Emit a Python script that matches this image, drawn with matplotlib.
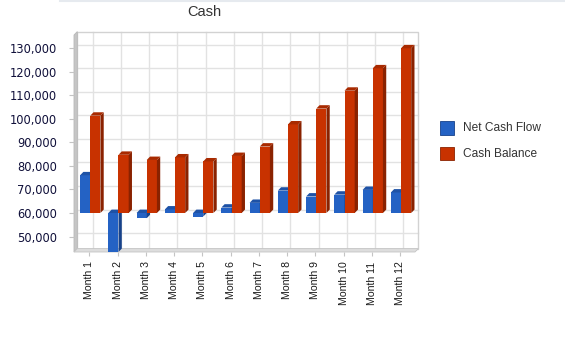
import matplotlib
matplotlib.use("Agg")
import matplotlib.pyplot as plt
from matplotlib.patches import Polygon, Rectangle
from matplotlib.lines import Line2D

# ---- data -------------------------------------------------------------
months = ["Month 1", "Month 2", "Month 3", "Month 4", "Month 5", "Month 6",
          "Month 7", "Month 8", "Month 9", "Month 10", "Month 11", "Month 12"]
net_cash_flow = [16000, -16600, -2200, 1500, -1500, 2300,
                 4300, 9500, 7000, 7800, 9800, 8700]
cash_balance = [101300, 84700, 82500, 83600, 81900, 84200,
                88200, 97600, 104300, 111900, 121400, 129900]
series_names = ["Net Cash Flow", "Cash Balance"]
y_ticks = [50000, 60000, 70000, 80000, 90000, 100000, 110000, 120000, 130000]
base_value = 60000
title = "Cash"

# ---- style ------------------------------------------------------------
W, H = 565, 349
BLUE = ("#2462c4", "#1e52a6", "#17428a")   # front, top, side
RED = ("#c83200", "#a82a00", "#8a2200")
ARIAL = "Liberation Sans"

fig = plt.figure(figsize=(W / 100, H / 100), dpi=100)
fig.patch.set_facecolor("white")


def px_rect(l, t, r, b):
    return [l / W, 1 - b / H, (r - l) / W, (b - t) / H]


ax = fig.add_axes(px_rect(74, 35, 415, 252))
ax.set_facecolor("none")
for s in ax.spines.values():
    s.set_visible(False)

x_lo, x_hi = -0.54, 11.53
y_lo, y_hi = 43450, 135530
ax.set_xlim(x_lo, x_hi)
ax.set_ylim(y_lo, y_hi)

# depth of the pseudo-3D effect, in pixels, converted to data units
dx_px, dy_px = 3.3, 3.4
ax_w_px, ax_h_px = 415 - 74, 252 - 35
dxd = dx_px * (x_hi - x_lo) / ax_w_px
dyd = dy_px * (y_hi - y_lo) / ax_h_px

# back wall: frame and grid
grid_c = "#e2e2e2"
for v in y_ticks + [y_hi - 1]:
    if v >= y_hi - 1:
        continue
    ax.plot([x_lo + dxd, x_hi + dxd], [v + dyd, v + dyd], color=grid_c,
            lw=1.0, zorder=0, clip_on=False)
for i in range(len(months)):
    ax.plot([i + dxd, i + dxd], [y_lo + dyd, y_hi + dyd], color=grid_c,
            lw=1.0, zorder=0, clip_on=False)
ax.add_patch(Rectangle((x_lo + dxd, y_lo + dyd), x_hi - x_lo, y_hi - y_lo,
                       facecolor="none", edgecolor="#d2d2d2", lw=1.0,
                       zorder=0.5, clip_on=False))

# left wall and floor
ax.add_patch(Polygon([(x_lo, y_lo), (x_lo, y_hi - dyd * 0.0),
                      (x_lo + dxd, y_hi + dyd), (x_lo + dxd, y_lo + dyd)],
                     closed=True, facecolor="#c6c6c6", edgecolor="#b8b8b8",
                     lw=0.6, zorder=1, clip_on=False))
ax.add_patch(Polygon([(x_lo, y_lo), (x_hi, y_lo), (x_hi + dxd, y_lo + dyd),
                      (x_lo + dxd, y_lo + dyd)],
                     closed=True, facecolor="#dddddd", edgecolor="#c4c4c4",
                     lw=0.6, zorder=1, clip_on=False))


def extrude(rect, top_c, side_c, z):
    x0, w = rect.get_x(), rect.get_width()
    y0, h = rect.get_y(), rect.get_height()
    x1 = x0 + w
    ylo, yhi = min(y0, y0 + h), max(y0, y0 + h)
    ylo = max(ylo, y_lo)
    ax.add_patch(Polygon([(x1, ylo), (x1 + dxd, ylo + dyd),
                          (x1 + dxd, yhi + dyd), (x1, yhi)], closed=True,
                         facecolor=side_c, edgecolor="none", zorder=z))
    ax.add_patch(Polygon([(x0, yhi), (x0 + dxd, yhi + dyd),
                          (x1 + dxd, yhi + dyd), (x1, yhi)], closed=True,
                         facecolor=top_c, edgecolor="none", zorder=z))


bar_w = 0.36
xs = list(range(len(months)))
for i in xs:
    z = 3 + i * 0.1
    b = ax.bar(i - 0.145, net_cash_flow[i], bar_w, bottom=base_value,
               color=BLUE[0], zorder=z)[0]
    extrude(b, BLUE[1], BLUE[2], z)
    r = ax.bar(i + 0.215, cash_balance[i] - base_value, bar_w,
               bottom=base_value, color=RED[0], zorder=z + 0.05)[0]
    extrude(r, RED[1], RED[2], z + 0.05)

# axes ticks and labels
ax.set_yticks(y_ticks)
ax.set_yticklabels([f"{v:,}" for v in y_ticks])
ax.tick_params(axis="y", length=3.6, width=0.8, pad=8.4, color="#c4c4c4",
               labelsize=8.3, labelcolor="#10103a")
ax.set_xticks(xs)
ax.set_xticklabels(months, rotation=90, fontfamily=ARIAL)
ax.tick_params(axis="x", length=3.2, width=0.8, pad=3.6, color="#c4c4c4",
               labelsize=7.6, labelcolor="#1a1a1a")

# title
fig.text(204 / W, 1 - 12.5 / H, title, ha="center", va="center",
         fontsize=10.5, family=ARIAL, color="#333333")

# legend
for k, (name, cols) in enumerate(zip(series_names, (BLUE, RED))):
    top = 121.5 + k * 25.5
    fig.patches.append(Rectangle((440 / W, 1 - (top + 13) / H), 13.5 / W,
                                 13 / H, transform=fig.transFigure,
                                 facecolor=cols[0], edgecolor=cols[2],
                                 lw=0.6))
    fig.text(463 / W, 1 - (top + 6.8) / H, name, ha="left", va="center",
             fontsize=8.6, family=ARIAL, color="#333333")

# faint rule along the top
fig.add_artist(Line2D([60 / W, 1], [1 - 1 / H, 1 - 1 / H],
                      transform=fig.transFigure, color="#e6eaef", lw=1.5))

fig.savefig("out.png", dpi=100)
